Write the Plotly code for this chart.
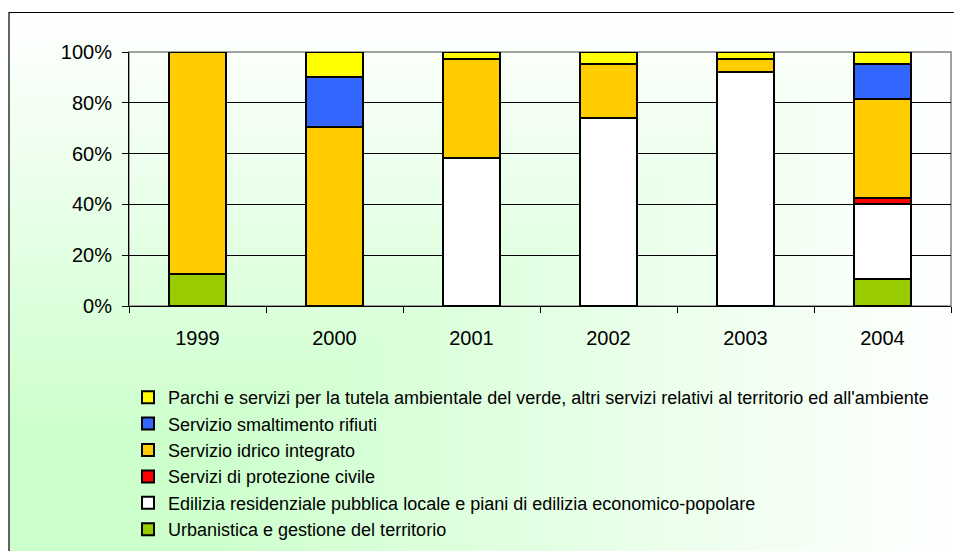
import base64
import plotly.graph_objects as go

W, H = 954, 543   # la pagina ha un margine di 8px: la finestra è 962x551
OFF = 8

anni = ["1999", "2000", "2001", "2002", "2003", "2004"]

# quote percentuali, dal basso verso l'alto nella colonna
urbanistica = [12.5, 0, 0, 0, 0, 10.8]
edilizia = [0, 0, 58.1, 73.9, 92.0, 29.2]
protezione_civile = [0, 0, 0, 0, 0, 2.4]
idrico = [87.5, 70.6, 39.3, 21.2, 5.4, 39.2]
rifiuti = [0, 19.7, 0, 0, 0, 13.5]
parchi = [0, 9.7, 2.6, 4.9, 2.6, 4.9]

tick_pct = [0, 20, 40, 60, 80, 100]
tick_lbl = ["0%", "20%", "40%", "60%", "80%", "100%"]

serie = [
    ("Urbanistica e gestione del territorio", urbanistica, "#99CC00"),
    ("Edilizia residenziale pubblica locale e piani di edilizia economico-popolare", edilizia, "#FFFFFF"),
    ("Servizi di protezione civile", protezione_civile, "#FF0000"),
    ("Servizio idrico integrato", idrico, "#FFCC00"),
    ("Servizio smaltimento rifiuti", rifiuti, "#3366FF"),
    ("Parchi e servizi per la tutela ambientale del verde, altri servizi relativi al territorio ed all'ambiente",
     parchi, "#FFFF00"),
]


def px_x(v):
    return (v - OFF) / W


def px_y(v):
    return 1 - (v - OFF) / H


# sfondo sfumato "dall'angolo" (verde in basso a sinistra)
svg = (
    "<svg xmlns='http://www.w3.org/2000/svg' width='953' height='539' preserveAspectRatio='none'>"
    "<defs>"
    "<linearGradient id='h' x1='0' y1='0' x2='1' y2='0'>"
    "<stop offset='0' stop-color='#CCFFCC'/><stop offset='0.2' stop-color='#CCFFCC'/>"
    "<stop offset='1' stop-color='#FFFFFF'/></linearGradient>"
    "<linearGradient id='v' x1='0' y1='1' x2='0' y2='0'>"
    "<stop offset='0' stop-color='#CCFFCC'/><stop offset='0.2' stop-color='#CCFFCC'/>"
    "<stop offset='1' stop-color='#FFFFFF'/></linearGradient>"
    "</defs>"
    "<g style='isolation:isolate'>"
    "<rect width='953' height='539' fill='url(#h)'/>"
    "<rect width='953' height='539' fill='url(#v)' style='mix-blend-mode:lighten'/>"
    "</g></svg>"
)
sfondo = "data:image/svg+xml;base64," + base64.b64encode(svg.encode()).decode()

fig = go.Figure()
n = len(serie)
for i, (nome, valori, colore) in enumerate(serie):
    fig.add_trace(go.Bar(
        x=anni,
        y=valori,
        name=nome,
        legendgroup=nome,
        legendrank=n - i,
        marker=dict(color=colore, line=dict(color="black", width=2)),
    ))

x0, x1 = 129, 951
y_top, y_bot = 52, 306

fig.update_layout(
    width=W,
    height=H,
    margin=dict(l=0, r=0, t=0, b=0, autoexpand=False),
    barmode="stack",
    bargap=0.59,
    paper_bgcolor="white",
    plot_bgcolor="rgba(0,0,0,0)",
    font=dict(family="Liberation Sans, Arial, sans-serif", color="black"),
    xaxis=dict(
        domain=[px_x(x0), px_x(x1)],
        showline=True, linecolor="black", linewidth=1,
        ticks="outside", tickson="boundaries", ticklen=6, tickcolor="black",
        tickfont=dict(size=20),
        ticklabelstandoff=14,
        showgrid=False,
    ),
    yaxis=dict(
        domain=[px_y(y_bot), px_y(y_top)],
        range=[0, 100],
        tickmode="array", tickvals=tick_pct, ticktext=tick_lbl,
        showline=True, linecolor="black", linewidth=1,
        ticks="outside", ticklen=6, tickcolor="black",
        tickfont=dict(size=20),
        ticklabelstandoff=6,
        showgrid=True, gridcolor="black", gridwidth=1,
        zeroline=False,
    ),
    legend=dict(
        x=px_x(128), y=px_y(379), xanchor="left", yanchor="top",
        traceorder="grouped",
        tracegroupgap=0,
        font=dict(size=18),
        bgcolor="rgba(0,0,0,0)",
    ),
    images=[dict(
        source=sfondo, xref="paper", yref="paper",
        x=px_x(9), y=px_y(12.5), sizex=(962 - 9) / W, sizey=(551 - 12.5) / H,
        sizing="stretch", xanchor="left", yanchor="top", layer="below",
    )],
    shapes=[
        # bordo esterno del grafico
        dict(type="rect", xref="paper", yref="paper",
             x0=px_x(9), y0=-0.05, x1=1.05, y1=px_y(12.5),
             line=dict(color="black", width=1.2), layer="above"),
        # bordo grigio dell'area del tracciato
        dict(type="rect", xref="paper", yref="paper",
             x0=px_x(x0), y0=px_y(y_bot), x1=px_x(x1), y1=px_y(y_top),
             line=dict(color="#A0A0A0", width=2), layer="between"),
    ],
)

fig.write_html("out.html")
